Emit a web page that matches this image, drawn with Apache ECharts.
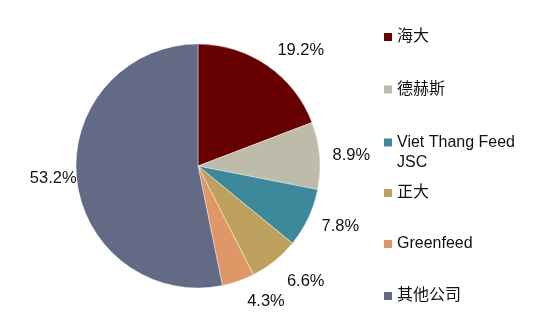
<!DOCTYPE html>
<html>
<head>
<meta charset="utf-8">
<script src="https://cdn.jsdelivr.net/npm/echarts@6/dist/echarts.min.js"></script>
<style>
html,body{margin:0;padding:0;background:#fff;}
#chart{width:533px;height:327px;}
</style>
</head>
<body>
<div id="chart"></div>
<script>
const categories = ['海大', '德赫斯', 'Viet Thang Feed JSC', '正大', 'Greenfeed', '其他公司'];
const shares = [19.2, 8.9, 7.8, 6.6, 4.3, 53.2];
const colors = ['#660000', '#BDBBA9', '#3D899B', '#BFA15F', '#DF9768', '#636A85'];
const legendTops = [29, 81.5, 112.5, 185, 236, 288];
// per-slice label placement (style only): [labelLine length, distance]
const labelPlace = [[18, 0], [8, 5], [19, -4], [26, -4], [21, 2], [6, -6]];

const FONT = '"Liberation Sans", Arial, "Noto Sans CJK SC", sans-serif';
const chart = echarts.init(document.getElementById('chart'), null, {renderer: 'canvas'});

const legends = categories.map((name, i) => {
  const twoLine = name === 'Viet Thang Feed JSC';
  return {
    orient: 'vertical',
    left: 384,
    top: legendTops[i],
    itemWidth: 8,
    itemHeight: 8,
    icon: 'rect',
    padding: 0,
    selectedMode: false,
    itemStyle: {borderWidth: 0},
    data: [name],
    formatter: twoLine ? () => '\nViet Thang Feed\nJSC' : '{name}',
    textStyle: twoLine ? {fontSize: 16, color: '#111', fontFamily: FONT, lineHeight: 20}
                       : {fontSize: 16, color: '#111', fontFamily: FONT}
  };
});

chart.setOption({
  animation: false,
  color: colors,
  legend: legends,
  series: [{
    type: 'pie',
    center: [198, 166],
    radius: [0, 122],
    startAngle: 90,
    clockwise: true,
    avoidLabelOverlap: false,
    itemStyle: {borderColor: '#fff', borderWidth: 0.4},
    label: {
      show: true,
      position: 'outside',
      formatter: p => p.value.toFixed(1) + '%',
      fontSize: 16.5,
      color: '#111',
      fontFamily: FONT
    },
    labelLine: {show: false, length2: 0},
    emphasis: {disabled: true},
    data: categories.map((name, i) => ({
      name: name,
      value: shares[i],
      label: {distanceToLabelLine: labelPlace[i][1]},
      labelLine: {show: false, length: labelPlace[i][0], length2: 0}
    }))
  }]
});
</script>
</body>
</html>
